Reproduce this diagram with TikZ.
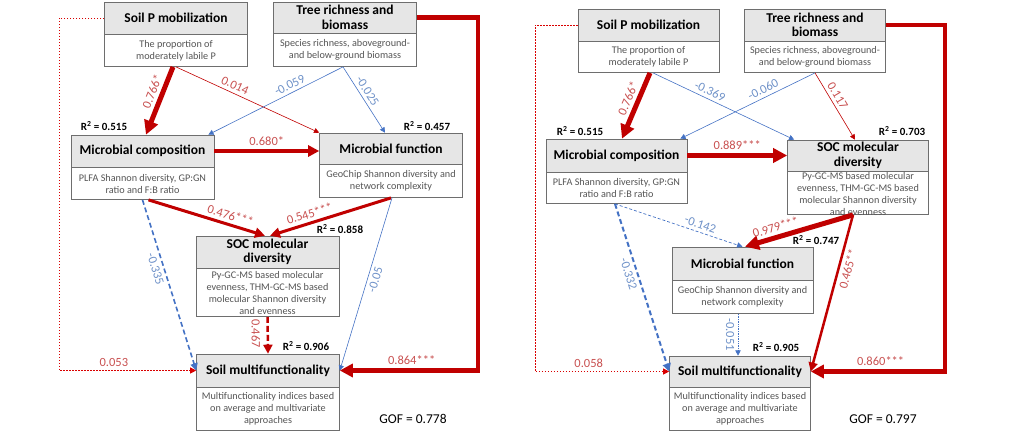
\documentclass[tikz,border=0pt]{standalone}
\usepackage{fontspec}
\setmainfont{Carlito}
\usetikzlibrary{positioning,arrows.meta}

\definecolor{arrowred}{RGB}{192,0,0}
\definecolor{labred}{RGB}{200,80,80}
\definecolor{arrowblue}{RGB}{68,114,196}
\definecolor{lablue}{RGB}{110,145,200}
\definecolor{headgray}{RGB}{230,230,230}
\definecolor{boxgray}{RGB}{110,110,110}
\definecolor{subgray}{RGB}{85,85,85}

\newcommand\hdfont{\fontsize{13.5}{14.5}\selectfont\bfseries}
\newcommand\sbfont{\fontsize{10.2}{12}\selectfont}
\newcommand\lbfont{\fontsize{12.5}{14}\selectfont}
\newcommand\rsfont{\fontsize{11}{13}\selectfont\bfseries}
\newcommand\gffont{\fontsize{13.5}{15}\selectfont}

\begin{document}
\begin{tikzpicture}[x=1pt, y=-1pt,
  >={Triangle[length=4pt 2,width=4pt 2]},
  head/.style={draw=boxgray, line width=0.6pt, fill=headgray, font=\hdfont, align=center,
    minimum width=\bw pt, minimum height=#1, inner sep=1pt},
  sub/.style={draw=boxgray, line width=0.6pt, fill=white, font=\sbfont, text=subgray, align=center,
    minimum width=\bw pt, minimum height=#1, inner sep=1pt},
  rpath/.style={draw=arrowred, line width=#1, ->},
  bpath/.style={draw=arrowblue, line width=#1, ->},
  dotpath/.style={draw=red!85!black, line width=1pt, dash pattern=on 1.5pt off 1.5pt, ->},
  rlab/.style={font=\lbfont, text=labred, sloped},
  blab/.style={font=\lbfont, text=lablue, sloped},
  rsq/.style={font=\rsfont}]
  \useasboundingbox (0,0) rectangle (1012,431);
  \pgfmathsetmacro{\bw}{143}

  % left model
  \node[head=32pt] (spL) at (176,18) {Soil P mobilization};
  \node[sub=32pt, below=0pt of spL] (spLs) {The proportion of\\moderately labile P};
  \node[head=31pt] (trL) at (345,17.5) {Tree richness and\\biomass};
  \node[sub=33pt, below=0pt of trL] (trLs) {Species richness, aboveground-\\and below-ground biomass};
  \node[head=32pt] (mcL) at (142.5,151) {Microbial composition};
  \node[sub=32pt, below=0pt of mcL] (mcLs) {PLFA Shannon diversity, GP:GN\\ratio and F:B ratio};
  \node[head=31pt] (mfL) at (391,148.5) {Microbial function};
  \node[sub=33pt, below=0pt of mfL] (mfLs) {GeoChip Shannon diversity and\\network complexity};
  \node[head=32pt] (socL) at (267.5,252) {SOC molecular\\diversity};
  \node[sub=48pt, below=0pt of socL] (socLs) {Py-GC-MS based molecular\\evenness, THM-GC-MS based\\molecular Shannon diversity\\and evenness};
  \node[head=33pt] (smL) at (268,370.5) {Soil multifunctionality};
  \node[sub=43pt, below=0pt of smL] (smLs) {Multifunctionality indices based\\on average and multivariate\\approaches};

  \node[rsq] (r1L) at (104,126) {R\textsuperscript{2} = 0.515};
  \node[rsq] (r2L) at (427,126) {R\textsuperscript{2} = 0.457};
  \node[rsq] (r3L) at (340,229) {R\textsuperscript{2} = 0.858};
  \node[rsq] (r4L) at (306,346) {R\textsuperscript{2} = 0.906};
  \node[font=\gffont] (gofL) at (413,419) {GOF = 0.778};

  \coordinate (cL) at (478,17.5);
  \coordinate (dL) at (59,18);
  \draw[rpath=5pt] ([xshift=-3pt]spLs.south) -- node[rlab, pos=0.42, above] {0.766*} ([xshift=3.5pt]mcL.north);
  \draw[rpath=0.6pt] (spLs.south) -- node[rlab, pos=0.39, above] {0.014} (mfL.north west);
  \draw[bpath=0.6pt] ([xshift=-2pt]trLs.south) -- node[blab, pos=0.37, above] {-0.059} ([xshift=-6pt]mcL.north east);
  \draw[bpath=0.6pt] ([xshift=-2pt]trLs.south) -- node[blab, pos=0.43, above] {-0.025} ([xshift=-6pt]mfL.north);
  \draw[rpath=3.5pt] (mcL.east) -- node[rlab, above] {0.680*} (mcL.east -| mfL.west);
  \draw[rpath=3pt] ([xshift=6pt]mcLs.south) -- node[rlab, pos=0.68, above] {0.476***} ([xshift=-2.5pt]socL.north);
  \draw[rpath=3pt] (mfLs.south) -- node[rlab, pos=0.65, above] {0.545***} ([xshift=2.5pt]socL.north);
  \draw[bpath=1.6pt, dash pattern=on 5pt off 3pt] (mcLs.south) -- node[blab, pos=0.39, below] {-0.335} (smL.west);
  \draw[rpath=2.5pt, dash pattern=on 6pt off 3pt] (socLs.south) -- node[rlab, pos=0.45, below=3pt] {0.467} (smL.north);
  \draw[bpath=0.6pt] ([xshift=1pt]mfLs.south) -- node[blab, pos=0.46, below] {-0.05} (smL.east);
  \draw[rpath=4.5pt] (trL.east) -- (cL) |- node[rlab, pos=0.74, above] {0.864***} (smL.east);
  \draw[dotpath] (spL.west) -- (dL) |- node[rlab, pos=0.70, above] {0.053} (smL.west);

  % right model
  \pgfmathsetmacro{\bw}{141}
  \node[head=32pt] (spR) at (648.5,25) {Soil P mobilization};
  \node[sub=31pt, below=0pt of spR] (spRs) {The proportion of\\moderately labile P};
  \node[head=32pt] (trR) at (815,25) {Tree richness and\\biomass};
  \node[sub=31pt, below=0pt of trR] (trRs) {Species richness, aboveground-\\and below-ground biomass};
  \node[head=33pt] (mcR) at (616.5,155.5) {Microbial composition};
  \node[sub=31pt, below=0pt of mcR] (mcRs) {PLFA Shannon diversity, GP:GN\\ratio and F:B ratio};
  \node[head=31pt] (socR) at (858,155.5) {SOC molecular\\diversity};
  \node[sub=43pt, below=0pt of socR] (socRs) {\parbox[c][41pt][t]{137pt}{\centering Py-GC-MS based molecular\\evenness, THM-GC-MS based\\molecular Shannon diversity\\and evenness}};
  \node[head=33pt] (mfR) at (742.5,263.5) {Microbial function};
  \node[sub=33pt, below=0pt of mfR] (mfRs) {GeoChip Shannon diversity and\\network complexity};
  \node[head=31pt] (smR) at (740,371.5) {Soil multifunctionality};
  \node[sub=43pt, below=0pt of smR] (smRs) {Multifunctionality indices based\\on average and multivariate\\approaches};

  \node[rsq] (r1R) at (580,131) {R\textsuperscript{2} = 0.515};
  \node[rsq] (r2R) at (902,131) {R\textsuperscript{2} = 0.703};
  \node[rsq] (r3R) at (816,240) {R\textsuperscript{2} = 0.747};
  \node[rsq] (r4R) at (776,347) {R\textsuperscript{2} = 0.905};
  \node[font=\gffont] (gofR) at (883,419) {GOF = 0.797};

  \coordinate (cR) at (945,25);
  \coordinate (dR) at (535,25);
  \draw[rpath=5pt] ([xshift=1.5pt]spRs.south) -- node[rlab, pos=0.45, above] {0.766*} ([xshift=5.5pt]mcR.north);
  \draw[bpath=0.6pt] ([xshift=4.5pt]spRs.south) -- node[blab, pos=0.38, above] {-0.369} ([xshift=7pt]socR.north west);
  \draw[bpath=0.6pt] (trRs.south) -- node[blab, pos=0.36, above] {-0.060} ([xshift=-7pt]mcR.north east);
  \draw[rpath=0.6pt] (trRs.south) -- node[rlab, pos=0.40, above] {0.117} ([xshift=-3pt]socR.north);
  \draw[rpath=5pt] (mcR.east) -- node[rlab, above] {0.889***} (socR.west);
  \draw[bpath=0.7pt, dash pattern=on 3pt off 2pt] ([xshift=-1.5pt]mcRs.south) -- node[blab, pos=0.65, above] {-0.142} (mfR.north);
  \draw[rpath=5pt] ([xshift=-5pt]socRs.south) -- node[rlab, pos=0.69, above] {0.979***} ([xshift=2.5pt]mfR.north);
  \draw[rpath=2.5pt] ([xshift=-5pt]socRs.south) -- node[rlab, pos=0.33, below] {0.465**} (smR.east);
  \draw[bpath=2pt, dash pattern=on 5pt off 3pt] ([xshift=-1.5pt]mcRs.south) -- node[blab, pos=0.4, below] {-0.332} (smR.west);
  \draw[bpath=0.7pt, densely dotted] ([xshift=-4.5pt]mfRs.south) -- node[blab, pos=0.5, below] {-0.051} ([xshift=-2pt]smR.north);
  \draw[rpath=4.5pt] (trR.east) -- (cR) |- node[rlab, pos=0.74, above] {0.860***} (smR.east);
  \draw[dotpath] (spR.west) -- (dR) |- node[rlab, pos=0.70, above] {0.058} (smR.west);
\end{tikzpicture}
\end{document}
